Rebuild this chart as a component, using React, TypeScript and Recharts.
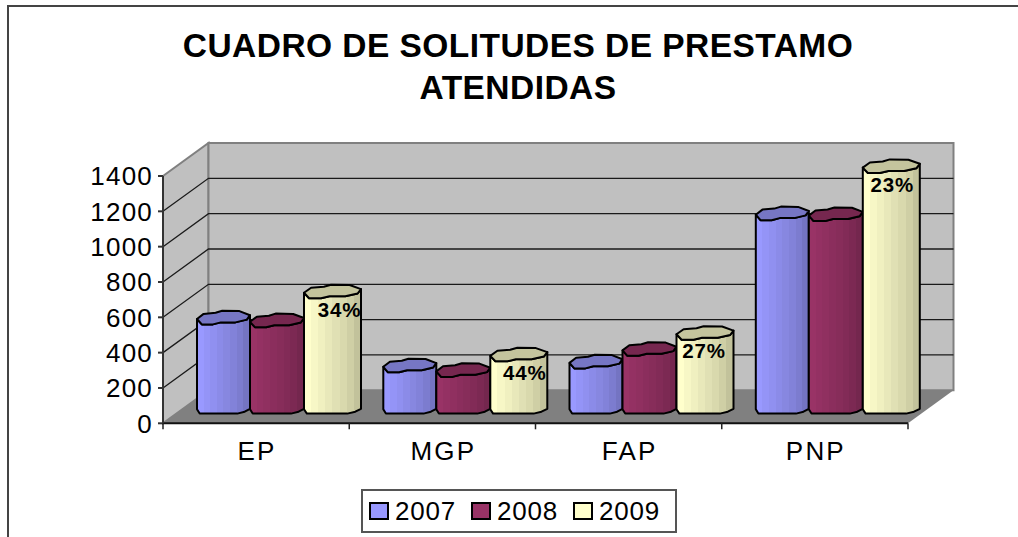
import { Bar, BarChart, CartesianGrid, LabelList, Legend, XAxis, YAxis } from 'recharts'

const categories = ['EP', 'MGP', 'FAP', 'PNP']
const values2007 = [505, 234, 256, 1095]
const values2008 = [489, 208, 327, 1090]
const values2009 = [653, 296, 418, 1362]
const labels2009 = ['34%', '44%', '27%', '23%']
const yTicks = [0, 200, 400, 600, 800, 1000, 1200, 1400]

const series = [
  { key: 'y2007', name: '2007', color: '#9999FF', values: values2007 },
  { key: 'y2008', name: '2008', color: '#993366', values: values2008 },
  { key: 'y2009', name: '2009', color: '#FFFFCC', values: values2009 },
]

const data = categories.map((cat, i) => ({
  cat,
  y2007: values2007[i],
  y2008: values2008[i],
  y2009: values2009[i],
  label: labels2009[i],
}))

// plot box of the front plane, and how far the walls sit behind it
const PLOT = { left: 163, top: 176, width: 745, height: 247.3 }
const DEPTH = { x: 45.5, y: -33 }
const FONT = '"Liberation Sans", Arial, sans-serif'
const BAND = PLOT.width / categories.length
const labelNudge = [28, 27, 20, 22]
// the pipes in the picture don't fill their slots evenly: left/right edge trim in px
const pipeTrim: Record<string, [number, number]> = {
  y2007: [0, 2],
  y2008: [-2, 3],
  y2009: [-3, 1],
}

// pipe outlines, -1..1 across the bar width and across the ellipse height
const capBack = [[-1, 0.2], [-0.75, -0.55], [-0.3, -0.7], [-0.05, -1], [0.6, -0.95], [1, -0.35]]
const capFront = [[1, -0.35], [0.88, 0.3], [0.45, 0.7], [-0.1, 0.7], [-0.4, 1], [-0.82, 1], [-1, 0.2]]
const baseFront = [[-1, 0.35], [-0.9, 1], [0.52, 1], [0.8, 0.72], [1, 0.3]]

function shade(hex: string, f: number) {
  const n = parseInt(hex.slice(1), 16)
  const c = [(n >> 16) & 255, (n >> 8) & 255, n & 255].map((v) => Math.round(v * f))
  return `rgb(${c.join(',')})`
}

// excel style banded pipe: light on the left, darker to the right
function PipeGradient({ id, color }: { id: string; color: string }) {
  const bands = [1, 0.97, 0.94, 0.91, 0.88, 0.85, 0.81, 0.76]
  return (
    <linearGradient id={id} x1="0" y1="0" x2="1" y2="0">
      {bands.flatMap((f, i) => [
        <stop key={`${i}a`} offset={i / bands.length} stopColor={shade(color, f)} />,
        <stop key={`${i}b`} offset={(i + 1) / bands.length} stopColor={shade(color, f)} />,
      ])}
    </linearGradient>
  )
}

function outline(shape: number[][], cx: number, cy: number, hw: number) {
  return shape.map(([u, v]) => `${(cx + u * hw).toFixed(1)},${(cy + v * 6.8).toFixed(1)}`)
}

function Pipe(props: any) {
  const { x, y, width, height, fill, seriesKey } = props
  const [trimL, trimR] = pipeTrim[seriesKey]
  const left = x + 23 + trimL
  const right = x + width + 23 - trimR
  const cx = (left + right) / 2
  const hw = (right - left) / 2
  const topY = y - 16.5
  const botY = y + height - 16.5
  const body = [...outline(baseFront, cx, botY, hw), ...outline(capFront, cx, topY, hw)]
  const cap = [...outline(capBack, cx, topY, hw), ...outline(capFront, cx, topY, hw)]
  return (
    <g stroke="#000" strokeWidth={2} strokeLinejoin="round">
      <polygon points={body.join(' ')} fill={`url(#pipe-${seriesKey})`} />
      <polygon points={cap.join(' ')} fill={shade(fill, 0.77)} />
    </g>
  )
}

function Walls() {
  const { left, top, width, height } = PLOT
  const bottom = top + height
  const bx = left + DEPTH.x
  const ty = top + DEPTH.y
  const by = bottom + DEPTH.y
  const rx = left + width + DEPTH.x
  return (
    <svg width={1018} height={537} style={{ position: 'absolute', left: 0, top: 0 }}>
      <polygon points={`${left},${top} ${bx},${ty} ${bx},${by} ${left},${bottom}`} fill="#C0C0C0" stroke="#808080" strokeWidth={2} />
      <polygon points={`${bx},${ty} ${rx},${ty} ${rx},${by} ${bx},${by}`} fill="#C0C0C0" stroke="#808080" strokeWidth={2} />
      <polygon points={`${left},${bottom} ${bx},${by} ${rx},${by} ${left + width},${bottom}`} fill="#808080" />
    </svg>
  )
}

// wall gridline: runs back along the side wall, then across the back wall
function GridLine(props: any) {
  const { y1, index } = props
  const isEdge = Math.abs(y1 - PLOT.top) < 1 || Math.abs(y1 - (PLOT.top + PLOT.height)) < 1
  if (isEdge) return <g key={index} />
  const bx = PLOT.left + DEPTH.x
  const rx = PLOT.left + PLOT.width + DEPTH.x
  const by = y1 + DEPTH.y
  return <path key={index} d={`M${PLOT.left},${y1} L${bx},${by} L${rx},${by}`} fill="none" stroke="#1a1a1a" strokeWidth={1.3} />
}

function CategoryTick(props: any) {
  const { x, y, payload, index } = props
  const bottom = PLOT.top + PLOT.height
  return (
    <g>
      {index === 0 && <line x1={x - BAND / 2} x2={x - BAND / 2} y1={bottom} y2={bottom + 6} stroke="#222" strokeWidth={1.5} />}
      <line x1={x + BAND / 2} x2={x + BAND / 2} y1={bottom} y2={bottom + 6} stroke="#222" strokeWidth={1.5} />
      <text x={x + 1} y={y + 29} textAnchor="middle" fontSize={26} letterSpacing={2.2} fontFamily={FONT} fill="#000">
        {payload.value}
      </text>
    </g>
  )
}

function PipeLabel(props: any) {
  const { x, y, width, value, index } = props
  return (
    <text x={x + width / 2 + labelNudge[index]} y={y + 9} textAnchor="middle" fontSize={20.5} fontWeight="bold" letterSpacing={0.8} fontFamily={FONT} fill="#000">
      {value}
    </text>
  )
}

function LegendBox({ payload }: any) {
  return (
    <div
      style={{
        boxSizing: 'border-box',
        width: 316,
        height: 44,
        background: '#fff',
        border: '2px solid #555',
        display: 'flex',
        alignItems: 'center',
        paddingLeft: 6,
        fontFamily: FONT,
        fontSize: 26,
        letterSpacing: 0.8,
        color: '#000',
      }}
    >
      {(payload ?? []).map((p: any) => (
        <span key={p.value} style={{ display: 'flex', alignItems: 'center', width: 102 }}>
          <span style={{ boxSizing: 'border-box', width: 20, height: 18, background: p.color, border: '2px solid #000', marginRight: 6 }} />
          {p.value}
        </span>
      ))}
    </div>
  )
}

export default function App() {
  return (
    <div style={{ position: 'fixed', left: 0, top: 0, width: 1018, height: 537, background: '#fff', overflow: 'hidden' }}>
      <div style={{ position: 'absolute', left: 7, top: 5, right: 0, bottom: 0, borderLeft: '2px solid #444', borderTop: '2px solid #444' }} />
      <Walls />
      <BarChart
        style={{ position: 'absolute', left: 0, top: 0 }}
        width={1018}
        height={537}
        data={data}
        margin={{ top: PLOT.top, right: 1018 - PLOT.left - PLOT.width, bottom: 537 - PLOT.top - PLOT.height - 60, left: 0 }}
        barGap={0}
        barCategoryGap={11}
      >
        <defs>
          {series.map((s) => (
            <PipeGradient key={s.key} id={`pipe-${s.key}`} color={s.color} />
          ))}
        </defs>
        <text textAnchor="middle" fontFamily={FONT} fontSize={33.5} fontWeight="bold" fill="#000" letterSpacing={0.45}>
          <tspan x={518} y={57}>CUADRO DE SOLITUDES DE PRESTAMO</tspan>
          <tspan x={518} y={99}>ATENDIDAS</tspan>
        </text>
        <CartesianGrid vertical={false} horizontal={GridLine} />
        <XAxis
          dataKey="cat"
          height={60}
          interval={0}
          tickLine={false}
          axisLine={{ stroke: '#111', strokeWidth: 2 }}
          tick={CategoryTick}
        />
        <YAxis
          width={PLOT.left}
          domain={[0, 1400]}
          ticks={yTicks}
          interval={0}
          tickSize={5}
          tickMargin={5}
          stroke="#333"
          strokeWidth={2}
          tick={{ fontSize: 26, fill: '#000', fontFamily: FONT, letterSpacing: 1.2 }}
        />
        {series.map((s) => (
          <Bar
            key={s.key}
            dataKey={s.key}
            name={s.name}
            fill={s.color}
            isAnimationActive={false}
            shape={(p: any) => <Pipe {...p} seriesKey={s.key} />}
          >
            {s.key === 'y2009' && <LabelList dataKey="label" content={PipeLabel} />}
          </Bar>
        ))}
        <Legend
          layout="horizontal"
          align="center"
          verticalAlign="middle"
          content={LegendBox}
          wrapperStyle={{ left: 361, top: 489, width: 316, height: 44 }}
        />
      </BarChart>
    </div>
  )
}
